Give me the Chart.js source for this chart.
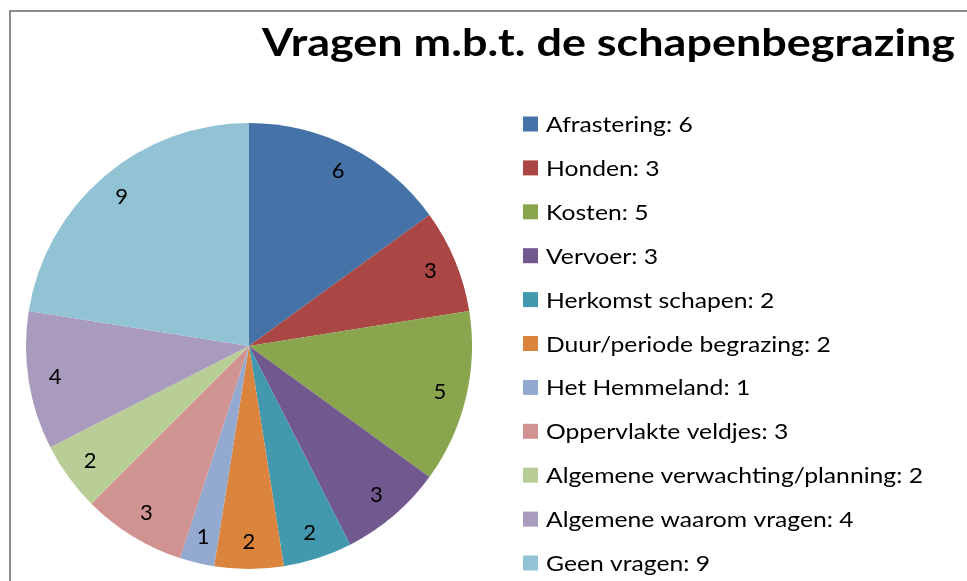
<!DOCTYPE html>
<html>
<head>
<meta charset="utf-8">
<script src="https://cdn.jsdelivr.net/npm/chart.js@4.4.1/dist/chart.umd.min.js"></script>
<style>
html,body{margin:0;padding:0;background:#fff;}
#wrap{width:967px;height:581px;position:relative;}
</style>
</head>
<body>
<div id="wrap"><canvas id="c" width="967" height="581"></canvas></div>
<script>
const TITLE = "Vragen m.b.t. de schapenbegrazing";
const categories = ["Afrastering", "Honden", "Kosten", "Vervoer", "Herkomst schapen", "Duur/periode begrazing", "Het Hemmeland", "Oppervlakte veldjes", "Algemene verwachting/planning", "Algemene waarom vragen", "Geen vragen"];
const values = [6, 3, 5, 3, 2, 2, 1, 3, 2, 4, 9];
const colors = ["#4572A7", "#AA4643", "#89A54E", "#71588F", "#4198AF", "#DB843D", "#93A9CF", "#D19392", "#B9CD96", "#A99BBD", "#92C3D5"];

const FONT = "Lato, 'Open Sans', sans-serif";

function fitText(ctx, text, x, y, targetWidth) {
  const w = ctx.measureText(text).width;
  const s = targetWidth / w;
  ctx.save();
  ctx.translate(x, y);
  ctx.scale(s, 1);
  ctx.fillText(text, 0, 0);
  ctx.restore();
}

const framePlugin = {
  id: 'frame',
  beforeDraw(chart) {
    const ctx = chart.ctx;
    ctx.save();
    ctx.fillStyle = '#fff';
    ctx.fillRect(0, 0, chart.width, chart.height);
    ctx.strokeStyle = '#8c8c8c';
    ctx.lineWidth = 2;
    ctx.beginPath();
    ctx.moveTo(10, chart.height);
    ctx.lineTo(10, 11);
    ctx.lineTo(chart.width, 11);
    ctx.stroke();
    ctx.restore();
  }
};

const labelPlugin = {
  id: 'sliceLabels',
  afterDatasetsDraw(chart) {
    const ctx = chart.ctx;
    const meta = chart.getDatasetMeta(0);
    ctx.save();
    ctx.fillStyle = '#000';
    ctx.font = "22px " + FONT;
    ctx.textAlign = 'center';
    ctx.textBaseline = 'middle';
    meta.data.forEach((arc, i) => {
      const p = arc.getProps(['x', 'y', 'startAngle', 'endAngle', 'outerRadius'], true);
      const a = (p.startAngle + p.endAngle) / 2;
      const r = p.outerRadius * 0.88;
      ctx.fillText(String(values[i]), p.x + Math.cos(a) * r, p.y + Math.sin(a) * r);
    });
    ctx.restore();
  }
};

const legendPlugin = {
  id: 'sideLegend',
  afterDraw(chart) {
    const ctx = chart.ctx;
    ctx.save();
    // title
    ctx.fillStyle = '#000';
    ctx.font = "bold 38px " + FONT;
    ctx.textAlign = 'left';
    ctx.textBaseline = 'alphabetic';
    fitText(ctx, TITLE, 262, 56, 693);
    // legend
    ctx.font = "22px " + FONT;
    const ref = ctx.measureText("Algemene verwachting/planning: 2").width;
    const sx = 377 / ref;
    categories.forEach((c, i) => {
      const y = 124 + i * 43.9;
      ctx.fillStyle = colors[i];
      ctx.fillRect(523, y - 7.5, 15, 15);
      ctx.fillStyle = '#000';
      const t = c + ": " + values[i];
      fitText(ctx, t, 546, y + 8, ctx.measureText(t).width * sx);
    });
    ctx.restore();
  }
};

new Chart(document.getElementById('c'), {
  type: 'pie',
  data: {
    labels: categories,
    datasets: [{
      data: values,
      backgroundColor: colors,
      borderWidth: 0
    }]
  },
  options: {
    responsive: false,
    animation: false,
    layout: { padding: { left: 26, right: 495, top: 123, bottom: 12 } },
    plugins: {
      legend: { display: false },
      title: { display: false },
      tooltip: { enabled: false }
    }
  },
  plugins: [framePlugin, labelPlugin, legendPlugin]
});
</script>
</body>
</html>
